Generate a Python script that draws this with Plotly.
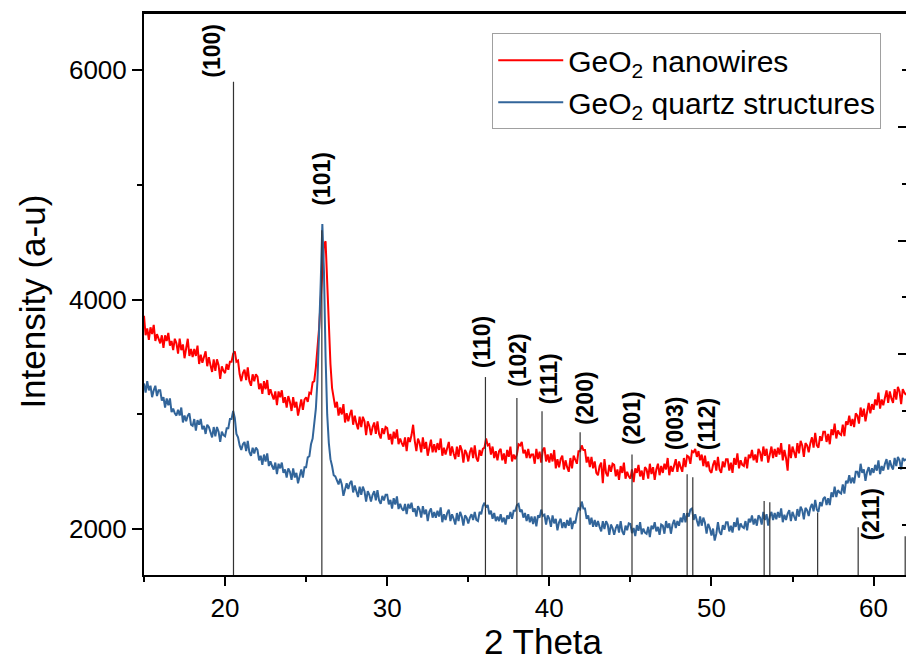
import numpy as np
import plotly.graph_objects as go

# 2-theta sampling grid (0.1 deg steps, 15.0 .. 62.0)
two_theta = np.round(np.arange(150, 621) / 10.0, 1)

# GeO2 nanowires (one row per degree, 15.x .. 61.x, then 62.0)
nanowires = [
    3860, 3690, 3750, 3650, 3760, 3700, 3780, 3640, 3700, 3650,
    3620, 3690, 3580, 3690, 3640, 3710, 3600, 3640, 3560, 3660,
    3620, 3530, 3660, 3560, 3610, 3490, 3570, 3660, 3510, 3570,
    3500, 3570, 3510, 3600, 3440, 3520, 3450, 3510, 3550, 3420,
    3500, 3430, 3370, 3480, 3380, 3480, 3430, 3310, 3420, 3380,
    3360, 3440, 3390, 3460, 3460, 3530, 3550, 3460, 3470, 3350,
    3290, 3360, 3390, 3300, 3410, 3290, 3250, 3350, 3290, 3350,
    3330, 3220, 3270, 3180, 3290, 3220, 3300, 3170, 3220, 3170,
    3130, 3200, 3080, 3200, 3150, 3210, 3100, 3150, 3060, 3160,
    3110, 3030, 3150, 3060, 3110, 2990, 3080, 3130, 3040, 3130,
    3150, 3110, 3190, 3180, 3280, 3290, 3410, 3550, 3750, 4000,
    4250, 4480, 4510, 4100, 3700, 3440, 3230, 3150, 3060, 3110,
    2990, 3060, 3000, 3090, 2930, 3010, 2940, 3000, 3040, 2910,
    2990, 2920, 2870, 2980, 2890, 2980, 2940, 2820, 2940, 2900,
    2820, 2890, 2930, 2830, 2940, 2830, 2790, 2880, 2830, 2890,
    2880, 2780, 2830, 2740, 2850, 2790, 2870, 2740, 2790, 2750,
    2720, 2800, 2680, 2800, 2760, 2820, 2910, 2770, 2680, 2790,
    2750, 2670, 2800, 2700, 2760, 2640, 2730, 2780, 2670, 2740,
    2670, 2750, 2690, 2790, 2640, 2710, 2650, 2720, 2760, 2640,
    2720, 2660, 2610, 2720, 2630, 2730, 2690, 2580, 2690, 2660,
    2590, 2670, 2710, 2620, 2730, 2620, 2590, 2690, 2640, 2700,
    2710, 2790, 2730, 2740, 2650, 2720, 2620, 2680, 2600, 2680,
    2700, 2600, 2660, 2570, 2690, 2630, 2720, 2590, 2650, 2610,
    2650, 2740, 2730, 2760, 2660, 2690, 2620, 2700, 2620, 2650,
    2650, 2570, 2700, 2610, 2675, 2580, 2690, 2710, 2590, 2650,
    2580, 2660, 2590, 2690, 2530, 2610, 2540, 2610, 2640, 2520,
    2600, 2540, 2500, 2620, 2530, 2640, 2610, 2570, 2680, 2680,
    2730, 2690, 2690, 2580, 2630, 2540, 2630, 2530, 2590, 2490,
    2470, 2550, 2580, 2400, 2610, 2490, 2460, 2560, 2500, 2570,
    2560, 2460, 2520, 2430, 2550, 2490, 2580, 2440, 2500, 2460,
    2440, 2520, 2410, 2530, 2490, 2560, 2460, 2510, 2430, 2540,
    2520, 2440, 2570, 2480, 2540, 2430, 2520, 2570, 2470, 2550,
    2490, 2570, 2520, 2620, 2470, 2550, 2500, 2570, 2610, 2500,
    2590, 2540, 2500, 2620, 2540, 2640, 2630, 2570, 2680, 2670,
    2700, 2630, 2680, 2600, 2650, 2550, 2640, 2540, 2590, 2510,
    2490, 2560, 2600, 2510, 2630, 2520, 2490, 2590, 2540, 2610,
    2610, 2510, 2580, 2490, 2620, 2560, 2660, 2530, 2600, 2560,
    2550, 2630, 2530, 2650, 2620, 2690, 2600, 2650, 2580, 2700,
    2670, 2590, 2720, 2640, 2700, 2580, 2670, 2720, 2620, 2700,
    2630, 2710, 2650, 2750, 2600, 2690, 2620, 2510, 2740, 2620,
    2720, 2670, 2620, 2750, 2660, 2770, 2730, 2630, 2750, 2730,
    2670, 2750, 2800, 2710, 2840, 2730, 2710, 2810, 2770, 2850,
    2850, 2760, 2830, 2740, 2870, 2820, 2920, 2790, 2860, 2830,
    2820, 2910, 2810, 2940, 2910, 2990, 2900, 2960, 2890, 3010,
    2990, 2920, 3060, 2980, 3050, 2940, 3040, 3100, 3010, 3090,
    3040, 3130, 3080, 3190, 3050, 3130, 3080, 3160, 3210, 3100,
    3200, 3140, 3100, 3220, 3130, 3240, 3200, 3090, 3220, 3190,
    3170,
]

# GeO2 quartz structures
quartz = [
    3270, 3190, 3290, 3210, 3250, 3150, 3210, 3250, 3160, 3210,
    3210, 3120, 3150, 3060, 3140, 3080, 3140, 3020, 3050, 3010,
    2990, 3040, 2990, 3060, 2930, 2990, 2940, 2990, 3010, 2910,
    2900, 2960, 2860, 2950, 2910, 2960, 2870, 2900, 2830, 2910,
    2890, 2840, 2800, 2890, 2810, 2890, 2850, 2760, 2850, 2820,
    2810, 2880, 2880, 2960, 2960, 3030, 2970, 2830, 2800, 2730,
    2690, 2740, 2760, 2680, 2770, 2670, 2640, 2710, 2660, 2710,
    2690, 2600, 2640, 2560, 2650, 2590, 2660, 2550, 2590, 2550,
    2520, 2580, 2480, 2570, 2530, 2580, 2490, 2520, 2450, 2530,
    2500, 2430, 2530, 2450, 2490, 2400, 2470, 2520, 2450, 2540,
    2540, 2625, 2635, 2740, 2790, 2900, 3050, 3300, 3650, 4150,
    4660, 4250, 3500, 3000, 2750, 2610, 2550, 2470, 2460, 2420,
    2390, 2440, 2390, 2290, 2340, 2400, 2350, 2400, 2420, 2320,
    2380, 2330, 2280, 2370, 2300, 2370, 2330, 2240, 2330, 2300,
    2240, 2300, 2330, 2250, 2340, 2250, 2220, 2290, 2250, 2300,
    2300, 2215, 2255, 2180, 2270, 2215, 2285, 2175, 2220, 2180,
    2160, 2220, 2130, 2220, 2180, 2230, 2150, 2180, 2110, 2200,
    2170, 2100, 2200, 2130, 2170, 2070, 2150, 2180, 2100, 2150,
    2100, 2160, 2110, 2190, 2060, 2130, 2080, 2140, 2170, 2070,
    2130, 2090, 2040, 2140, 2070, 2150, 2110, 2030, 2120, 2100,
    2050, 2100, 2130, 2080, 2150, 2080, 2070, 2150, 2130, 2200,
    2230, 2190, 2210, 2130, 2160, 2090, 2140, 2070, 2110, 2070,
    2130, 2060, 2100, 2040, 2120, 2090, 2150, 2090, 2160, 2160,
    2210, 2220, 2150, 2170, 2100, 2140, 2070, 2130, 2060, 2110,
    2045, 2110, 2025, 2120, 2100, 2170, 2115, 2125, 2040, 2120,
    2090, 2020, 2120, 2050, 2090, 1990, 2060, 2090, 2010, 2060,
    2010, 2080, 2030, 2100, 2000, 2070, 2050, 2130, 2180, 2170,
    2240, 2180, 2180, 2090, 2120, 2040, 2100, 2020, 2080, 2020,
    2070, 2020, 1980, 2070, 2000, 2070, 2040, 1950, 2040, 2010,
    1950, 2010, 2040, 1970, 2070, 1980, 1950, 2030, 1990, 2050,
    2045, 1965, 2010, 1940, 2035, 1985, 2060, 1955, 2005, 1970,
    1960, 2020, 1930, 2030, 2000, 2060, 1980, 2020, 1950, 2040,
    2030, 1960, 2070, 2010, 2050, 1960, 2040, 2080, 2010, 2070,
    2030, 2100, 2060, 2140, 2060, 2140, 2110, 2170, 2180, 2080,
    2130, 2075, 2025, 2110, 2030, 2100, 2055, 1960, 2045, 2010,
    1945, 2005, 1900, 1960, 2060, 1975, 1950, 2035, 1995, 2060,
    2060, 1980, 2030, 1970, 2060, 2020, 2100, 1990, 2050, 2020,
    2010, 2070, 1990, 2090, 2060, 2120, 2040, 2090, 2030, 2120,
    2100, 2040, 2150, 2080, 2130, 2030, 2110, 2150, 2080, 2140,
    2085, 2150, 2100, 2180, 2060, 2125, 2080, 2135, 2165, 2070,
    2150, 2110, 2075, 2175, 2110, 2195, 2165, 2085, 2185, 2165,
    2115, 2185, 2220, 2155, 2255, 2170, 2150, 2235, 2200, 2265,
    2280, 2210, 2270, 2210, 2320, 2280, 2370, 2280, 2340, 2320,
    2310, 2390, 2310, 2420, 2400, 2470, 2400, 2450, 2400, 2500,
    2500, 2450, 2570, 2490, 2520, 2420, 2500, 2540, 2470, 2530,
    2490, 2560, 2510, 2600, 2480, 2550, 2510, 2570, 2610, 2520,
    2600, 2550, 2520, 2620, 2550, 2630, 2600, 2520, 2620, 2600,
    2610,
]

# Reference pattern of quartz-type GeO2 (relative intensity, right axis)
ref_pos = [20.52, 25.97, 36.06, 38.0, 39.55, 41.9, 45.1, 48.5, 48.85,
           53.25, 53.6, 56.55, 59.05, 61.95]
ref_int = [87.9, 61.8, 36.0, 32.3, 30.0, 26.3, 22.4, 18.9, 18.4,
           14.2, 14.0, 12.2, 9.6, 8.0]

# Miller-index labels and where they sit (2-theta, relative intensity)
hkl_text = ["(100)", "(101)", "(110)", "(102)", "(111)", "(200)",
            "(201)", "(003)", "(112)", "(211)"]
hkl_x = [19.23, 25.96, 35.85, 38.07, 39.98, 42.2, 45.1, 47.76, 49.73, 59.85]
hkl_y = [88.2, 65.7, 37.2, 33.9, 30.9, 27.2, 23.7, 22.8, 22.8, 6.95]

FONT = "Liberation Sans, Arial, sans-serif"

stick_x, stick_y = [], []
for p, h in zip(ref_pos, ref_int):
    stick_x += [p, p, None]
    stick_y += [0, h, None]

fig = go.Figure()
fig.add_trace(go.Scatter(x=two_theta, y=nanowires, mode="lines",
                         name="GeO<sub>2</sub> nanowires",
                         line=dict(color="#FF0000", width=2)))
fig.add_trace(go.Scatter(x=two_theta, y=quartz, mode="lines",
                         name="GeO<sub>2</sub> quartz structures",
                         line=dict(color="#32659A", width=2)))
fig.add_trace(go.Scatter(x=stick_x, y=stick_y, xaxis="x", yaxis="y2",
                         mode="lines", showlegend=False, hoverinfo="none",
                         line=dict(color="#333333", width=1.2)))

for t, x, y in zip(hkl_text, hkl_x, hkl_y):
    fig.add_annotation(x=x, y=y, xref="x", yref="y2", text=f"<b>{t}</b>",
                       textangle=-90, showarrow=False, xanchor="center",
                       yanchor="bottom", font=dict(family=FONT, size=23, color="black"))

fig.add_annotation(x=0.524, y=-0.08, xref="paper", yref="paper", text="2 Theta",
                   showarrow=False, xanchor="center", yanchor="top",
                   font=dict(family=FONT, size=35, color="black"))
fig.add_annotation(x=-0.146, y=0.486, xref="paper", yref="paper", text="Intensity (a-u)",
                   textangle=-90, showarrow=False, xanchor="center", yanchor="middle",
                   font=dict(family=FONT, size=35, color="black"))

# top frame line of the plot area
fig.add_shape(type="line", xref="paper", yref="paper", x0=0, x1=1, y0=1, y1=1,
              line=dict(color="black", width=2), layer="above")

axis_common = dict(showgrid=False, zeroline=False, showline=True,
                   linecolor="black", linewidth=2, tickcolor="black", tickwidth=2)

fig.update_layout(
    width=906, height=665,
    margin=dict(l=144, r=0, t=13, b=90),
    paper_bgcolor="white", plot_bgcolor="white",
    font=dict(family=FONT, color="black"),
    xaxis=dict(range=[15, 62], tick0=0, dtick=10, ticks="outside", ticklen=9, mirror=True,
               minor=dict(dtick=5, ticks="outside", ticklen=5, tickwidth=2, tickcolor="black"),
               tickfont=dict(size=26), **axis_common),
    yaxis=dict(range=[1600, 6500], tick0=0, dtick=2000, ticks="outside", ticklen=10,
               minor=dict(dtick=1000, ticks="outside", ticklen=5, tickwidth=2, tickcolor="black"),
               tickfont=dict(size=26), **axis_common),
    yaxis2=dict(overlaying="y", side="right", anchor="x", range=[1.2, 100], tick0=0, dtick=20,
                ticks="inside", ticklen=8, showticklabels=False, showgrid=False,
                zeroline=False, showline=False, tickcolor="black", tickwidth=2,
                minor=dict(dtick=10, ticks="inside", ticklen=4, tickwidth=2, tickcolor="black")),
    legend=dict(x=0.457, y=0.964, xanchor="left", yanchor="top",
                bgcolor="white", bordercolor="#A0A0A0", borderwidth=1,
                font=dict(size=30, family=FONT), tracegroupgap=0, itemwidth=65),
    showlegend=True,
)

fig.write_html("out.html")
